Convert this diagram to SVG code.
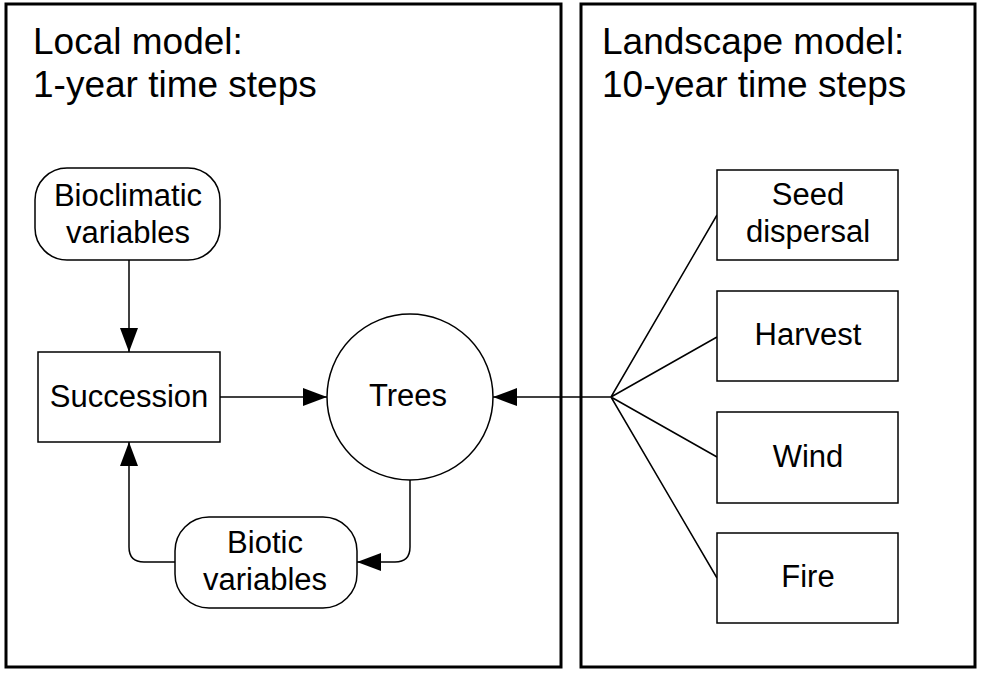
<svg xmlns="http://www.w3.org/2000/svg" width="983" height="679" viewBox="0 0 983 679">
<style>
.frame{fill:#fff;stroke:#000;stroke-width:3}
.node{fill:#fff;stroke:#000;stroke-width:1.5}
.title{font-family:"Liberation Sans",Arial,sans-serif;font-size:37px;fill:#000}
.lbl{font-family:"Liberation Sans",Arial,sans-serif;font-size:31px;fill:#000;text-anchor:middle}
.con{fill:none;stroke:#000;stroke-width:1.5}
</style>
<defs>
<marker id="arr" viewBox="0 0 24 18" refX="24" refY="9" markerWidth="24" markerHeight="18" markerUnits="userSpaceOnUse" orient="auto">
<path d="M0,0 L24,9 L0,18 z" fill="#000"/>
</marker>
</defs>
<rect width="983" height="679" fill="#fff"/>
<g id="local-frame">
<rect class="frame" x="6" y="4" width="555" height="663"/>
<text class="title" x="33" y="54">Local model:</text>
<text class="title" x="33" y="97">1-year time steps</text>
</g>
<g id="landscape-frame">
<rect class="frame" x="581" y="4" width="394" height="663"/>
<text class="title" x="602" y="54">Landscape model:</text>
<text class="title" x="602" y="97">10-year time steps</text>
</g>
<g id="connectors">
<path class="con" d="M129,260 L129,352" marker-end="url(#arr)"/>
<path class="con" d="M220,397 L327,397" marker-end="url(#arr)"/>
<path class="con" d="M611,397 L493,397" marker-end="url(#arr)"/>
<path class="con" d="M410,480 L410,547 Q410,562 395,562 L357,562" marker-end="url(#arr)"/>
<path class="con" d="M175,562 L144,562 Q129,562 129,547 L129,442" marker-end="url(#arr)"/>
<path class="con" d="M611,397 L717,215 M611,397 L717,337 M611,397 L717,457 M611,397 L717,578"/>
</g>
<g id="bioclimatic">
<rect class="node" x="35" y="168" width="185" height="92" rx="32" ry="32"/>
<text class="lbl" x="128" y="206">Bioclimatic</text>
<text class="lbl" x="128" y="243">variables</text>
</g>
<g id="succession">
<rect class="node" x="38" y="352" width="182" height="90"/>
<text class="lbl" x="129" y="407">Succession</text>
</g>
<g id="trees">
<circle class="node" cx="410" cy="397" r="83"/>
<text class="lbl" x="408" y="406">Trees</text>
</g>
<g id="biotic">
<rect class="node" x="175" y="517" width="182" height="91" rx="34" ry="34"/>
<text class="lbl" x="265" y="553">Biotic</text>
<text class="lbl" x="265" y="590">variables</text>
</g>
<g id="seed">
<rect class="node" x="717" y="170" width="181" height="90"/>
<text class="lbl" x="808" y="205">Seed</text>
<text class="lbl" x="808" y="242">dispersal</text>
</g>
<g id="harvest">
<rect class="node" x="717" y="291" width="181" height="90"/>
<text class="lbl" x="808" y="345">Harvest</text>
</g>
<g id="wind">
<rect class="node" x="717" y="412" width="181" height="91"/>
<text class="lbl" x="808" y="467">Wind</text>
</g>
<g id="fire">
<rect class="node" x="717" y="533" width="181" height="90"/>
<text class="lbl" x="808" y="587">Fire</text>
</g>
</svg>
